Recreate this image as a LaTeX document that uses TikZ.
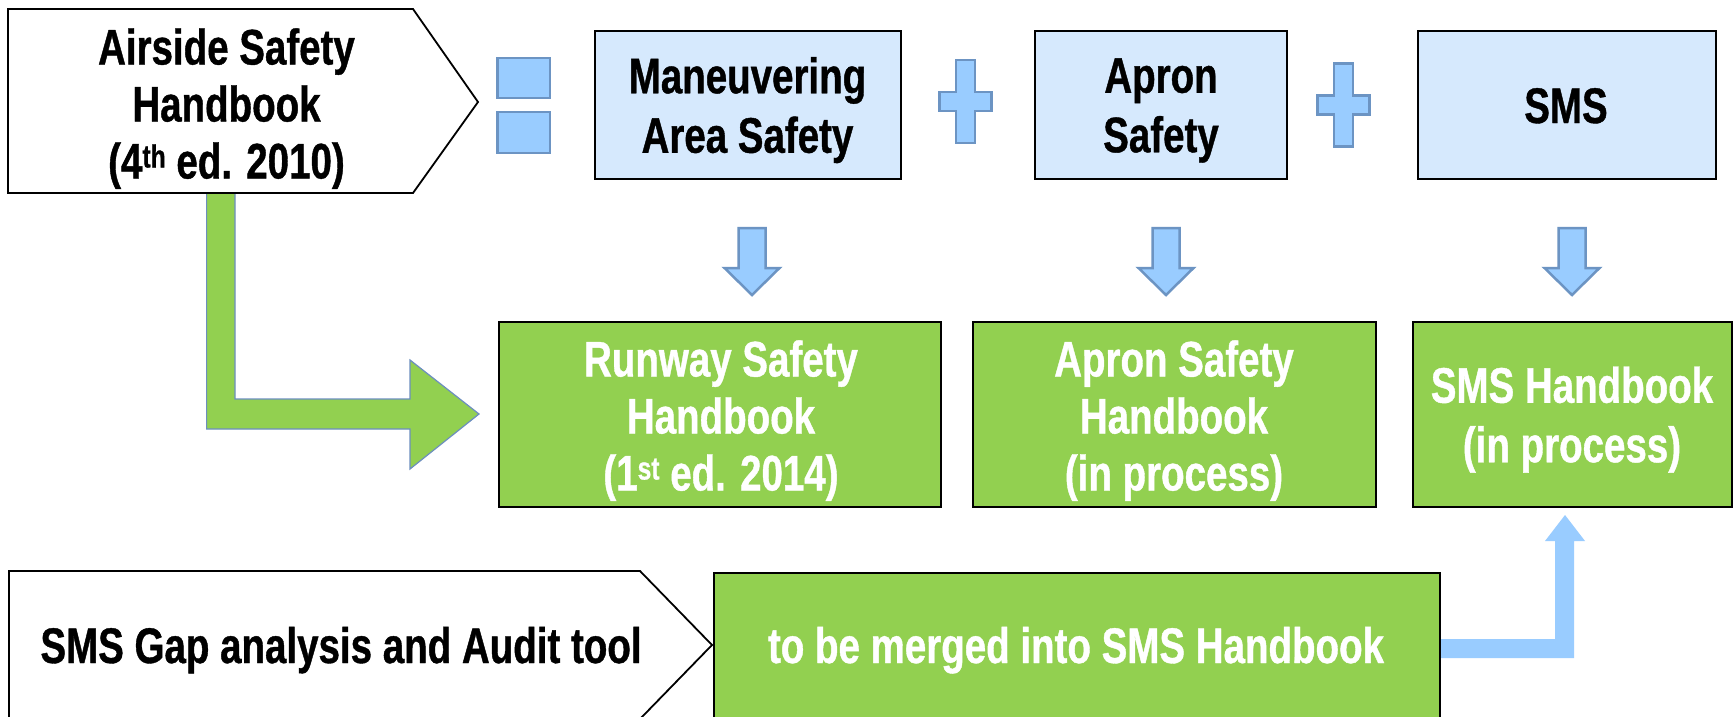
\documentclass[tikz,border=0pt]{standalone}
\usepackage{fontspec}
\setmainfont{Liberation Sans}[FakeStretch=0.77, BoldFeatures={FakeBold=0.8}]
\definecolor{lightblue}{HTML}{D6E9FD}
\definecolor{sgreen}{HTML}{92D050}
\definecolor{arrowblue}{HTML}{99CCFF}
\definecolor{arrowedge}{HTML}{6C94C3}
\definecolor{gedge}{HTML}{6C8EBF}
\newcommand{\supr}[1]{\raisebox{11pt}{\fontsize{32}{32}\selectfont #1}}
\newcommand{\hst}{\rule{0pt}{37pt}}
\newcommand{\dst}{\rule[-11pt]{0pt}{11pt}}
\tikzset{
  txt/.style={font=\fontsize{50}{57}\selectfont\bfseries, align=center, inner sep=0pt},
  wide/.style={font=\fontsize{50}{59.5}\selectfont\bfseries},
  wtxt/.style={txt, text=white},
  boxbase/.style={draw=black, line width=2pt},
  bluebox/.style={boxbase, fill=lightblue},
  greenbox/.style={boxbase, fill=sgreen},
  pent/.style={draw=black, line width=1.8pt, fill=white, line join=miter},
  blk/.style={fill=arrowblue, draw=arrowedge, line width=2.5pt},
  garrow/.style={fill=sgreen, draw=gedge, line width=1.2pt},
  uparrow/.style={fill=arrowblue},
  dnarrow/.pic={\draw[blk] (-13.5,0) -- (13.5,0) -- (13.5,40) -- (27.5,40) -- (0,67) -- (-27.5,40) -- (-13.5,40) -- cycle;},
  plussign/.pic={\draw[blk] (-9.5,-41.5) -- (9.5,-41.5) -- (9.5,-9.5) -- (26,-9.5) -- (26,9.5) -- (9.5,9.5) -- (9.5,41.5) -- (-9.5,41.5) -- (-9.5,9.5) -- (-26,9.5) -- (-26,-9.5) -- (-9.5,-9.5) -- cycle;}
}
\begin{document}
\begin{tikzpicture}[x=1pt,y=-1pt]
\useasboundingbox (0,0) rectangle (1734,717);
\fill[white] (0,0) rectangle (1734,717);
\clip (0,0) rectangle (1734,717);

% green L arrow from Airside handbook to Runway handbook
\draw[garrow] (206.6,193) -- (235,193) -- (235,399) -- (410,399) -- (410,360) -- (479,414) -- (410,469) -- (410,429) -- (206.6,429) -- cycle;

% Airside pentagon
\draw[pent] (8,9) -- (413,9) -- (478,102) -- (413,193) -- (8,193) -- cycle;
\node[txt] (ash) at (226.5,108.5) {\hst Airside Safety\\Handbook\\(4\supr{th} ed. 2010)\dst};

% equals sign
\draw[blk] (497.5,58) rectangle (550,98);
\draw[blk] (497.5,112) rectangle (550,153);

% top row
\node[bluebox, minimum width=306pt, minimum height=148pt] (man) at (748,105) {};
\node[txt, wide] (mantxt) at (747.5,110) {\hst Maneuvering\\Area Safety\dst};
\pic at (965.5,101.5) {plussign};
\node[bluebox, minimum width=252pt, minimum height=148pt] (apr) at (1161,105) {};
\node[txt, wide] (aprtxt) at (1161,109.5) {\hst Apron\\Safety\dst};
\pic at (1343.5,105) {plussign};
\node[bluebox, minimum width=298pt, minimum height=148pt] (sms) at (1567,105) {};
\node[txt] (smstxt) at (1566,110) {\hst SMS\dst};

% down arrows
\pic at (752,228) {dnarrow};
\pic at (1166,228) {dnarrow};
\pic at (1572,228) {dnarrow};

% second row
\node[greenbox, minimum width=442pt, minimum height=185pt] (run) at (720,414.5) {};
\node[wtxt] (runtxt) at (721,420.5) {\hst Runway Safety\\Handbook\\(1\supr{st} ed. 2014)\dst};
\node[greenbox, minimum width=403pt, minimum height=185pt] (aprh) at (1174.5,414.5) {};
\node[wtxt] (aprhtxt) at (1174,420.5) {\hst Apron Safety\\Handbook\\(in process)\dst};
\node[greenbox, minimum width=319pt, minimum height=185pt] (smsh) at (1572.5,414.5) {};
\node[wtxt, wide] (smshtxt) at (1572,419.5) {\hst SMS Handbook\\(in process)\dst};

% bottom row
\draw[pent] (9,571) -- (640,571) -- (712,645) -- (640,719) -- (9,719) -- cycle;
\node[txt] (gap) at (341,650) {\hst SMS Gap analysis and Audit tool\dst};
\node[greenbox, minimum width=726pt, minimum height=150pt, anchor=north west] (merge) at (713,572) {};
\node[wtxt] (mergetxt) at (1076,650) {\hst to be merged into SMS Handbook\dst};

% blue up arrow from merge box to SMS handbook
\coordinate (ua) at (merge.east |- 0,639);
\fill[uparrow] (ua) -- (1555,639) -- (1555,541) -- (1545,541) -- (1565,515) -- (1585,541) -- (1574,541) -- (1574,658) -- (ua |- 0,658) -- cycle;
\end{tikzpicture}
\end{document}
